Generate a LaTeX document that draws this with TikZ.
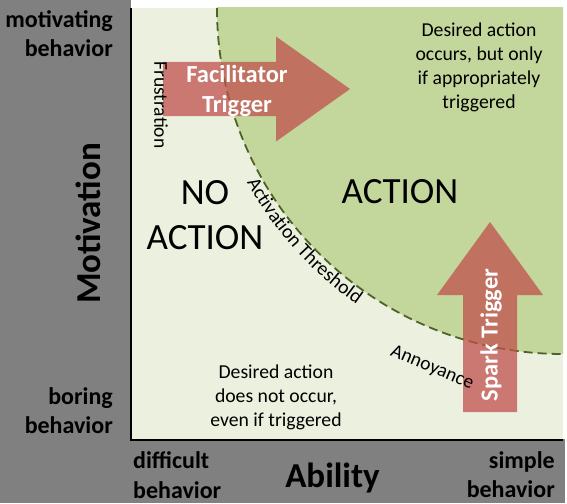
\documentclass[tikz,border=0pt]{standalone}
\usepackage{fontspec}
\setmainfont{Carlito}
\usetikzlibrary{decorations.text}
\definecolor{panel}{HTML}{808080}
\definecolor{bgpale}{HTML}{EBF1DE}
\definecolor{actgreen}{HTML}{C3D69B}
\definecolor{edgegreen}{HTML}{4F6228}
\definecolor{trigred}{HTML}{C0504D}

\begin{document}
\begin{tikzpicture}[
    x=1pt, y=-1pt,
    corner/.style={font=\fontsize{24}{29.3}\selectfont\bfseries, inner sep=0pt},
    axtitle/.style={font=\fontsize{35}{42}\selectfont\bfseries, inner sep=0pt},
    zone/.style={font=\fontsize{37}{45}\selectfont, inner sep=0pt, align=center},
    note/.style={font=\fontsize{19.7}{24}\selectfont, inner sep=0pt, align=center},
    rim/.style={font=\fontsize{19.5}{23}\selectfont, inner sep=0pt},
    trig/.style={fill=trigred, fill opacity=0.75},
    triglbl/.style={font=\fontsize{24.5}{30}\selectfont\bfseries, text=white, inner sep=0pt, align=center},
    thresh/.style={draw=edgegreen, line width=1.8pt, dash pattern=on 9pt off 5pt}
]
    \useasboundingbox (0,0) rectangle (567,503);

    % --- Frame: grey margins and plot field ---
    \fill[white] (0,0) rectangle (567,503);
    \fill[panel] (0,0) rectangle (131,503);
    \fill[panel] (0,439) rectangle (565,503);
    \fill[bgpale] (132,8) rectangle (563,439);

    % --- Action zone: quarter disc round the top right corner ---
    \begin{scope}
        \clip (132,8) rectangle (563,439);
        \fill[actgreen] (563,8) circle[radius=346];
        \draw[thresh] (563,8) circle[radius=346];
    \end{scope}
    \draw[line width=2pt] (131,8) -- (131,440) -- (563,440);

    % --- Triggers ---
    \fill[trig] (163,62) -- (276,62) -- (276,36.5) -- (350,89) -- (276,141.5) -- (276,116) -- (163,116) -- cycle;
    \fill[trig] (463,412) -- (463,295) -- (437,295) -- (490,222) -- (543,295) -- (517,295) -- (517,412) -- cycle;
    \node[triglbl] (facil) at (237,91) {Facilitator\\Trigger};
    \node[triglbl, rotate=90] (spark) at (491,335) {Spark Trigger};

    % --- Zone texts ---
    \node[zone] (noact) at (205,215.5) {NO\\ACTION};
    \node[zone] (act) at (400,192) {ACTION};
    \node[note] (actnote) at (479,67.5) {Desired action\\occurs, but only\\if appropriately\\triggered};
    \node[note] (noactnote) at (276,397) {Desired action\\does not occur,\\even if triggered};

    % --- Labels along the threshold ---
    \node[rim, rotate=-90] (frust) at (161,105) {Frustration};
    \node[rim, rotate=-23] (annoy) at (432,368) {Annoyance};
    \path[decorate, decoration={text along path, text align=center,
        text={|\fontsize{19.7}{24}\selectfont|Activation Threshold}}]
        (563,8) ++(158:361) arc[start angle=158, end angle=118, radius=361];

    % --- Axes ---
    \node[corner, align=right, anchor=east] (hiMot) at (113,34) {motivating\\behavior};
    \node[corner, align=right, anchor=east] (loMot) at (113,410.5) {boring\\behavior};
    \node[corner, align=left, anchor=west] (hard) at (133,475) {difficult\\behavior};
    \node[corner, align=right, anchor=east] (easy) at (555,475) {simple\\behavior};
    \node[axtitle, rotate=90] (ylbl) at (88,223.5) {Motivation};
    \node[axtitle, anchor=base] (xlbl) at (332.5,487) {Ability};
\end{tikzpicture}
\end{document}
